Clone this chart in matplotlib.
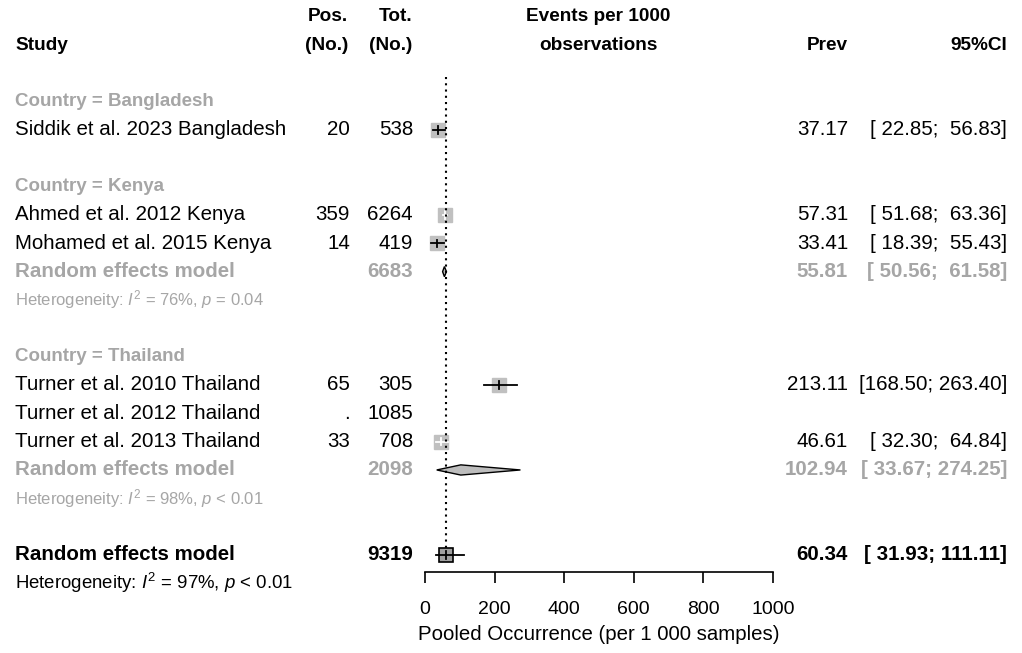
import numpy as np
import matplotlib.pyplot as plt

plt.rcParams['font.family'] = ['Liberation Sans', 'DejaVu Sans']
plt.rcParams['mathtext.fontset'] = 'custom'
plt.rcParams['mathtext.rm'] = 'Liberation Sans'
plt.rcParams['mathtext.it'] = 'Liberation Sans:italic'

# study level data
studies = ["Siddik et al. 2023 Bangladesh", "Ahmed et al. 2012 Kenya",
           "Mohamed et al. 2015 Kenya", "Turner et al. 2010 Thailand",
           "Turner et al. 2012 Thailand", "Turner et al. 2013 Thailand"]
country = ["Bangladesh", "Kenya", "Kenya", "Thailand", "Thailand", "Thailand"]
pos = [20, 359, 14, 65, None, 33]
tot = [538, 6264, 419, 305, 1085, 708]
prev = [37.17, 57.31, 33.41, 213.11, np.nan, 46.61]
lo = [22.85, 51.68, 18.39, 168.50, np.nan, 32.30]
hi = [56.83, 63.36, 55.43, 263.40, np.nan, 64.84]

# subgroup random effects
sub_names = ["Kenya", "Thailand"]
sub_tot = [6683, 2098]
sub_prev = [55.81, 102.94]
sub_lo = [50.56, 33.67]
sub_hi = [61.58, 274.25]
sub_i2 = [76, 98]
sub_p = ["= 0.04", "< 0.01"]

# overall random effects
all_tot = 9319
all_prev = 60.34
all_lo = 31.93
all_hi = 111.11
all_i2 = 97
all_p = "< 0.01"

grey = '#a6a6a6'
sq_grey = '#c0c0c0'
fs = 14.8
fs_group = 13.5
fs_het = 12
fs_het_all = 13.4

W, H = 1022, 653
fig = plt.figure(figsize=(W / 100, H / 100), dpi=100)

# row r sits at pixel 16.68 + 28.33 * r from the top
def row_of(px):
    return (px - 16.68) / 28.33

ax = fig.add_axes([0, 0, 1, 1])
ax.set_xlim(0, W)
ax.set_ylim(row_of(H), row_of(0))
ax.axis('off')

fx = fig.add_axes([425 / W, (H - 572) / H, 348 / W, 572 / H])
fx.set_xlim(0, 1000)
fx.set_ylim(row_of(572), row_of(0))
fx.patch.set_visible(False)
for s in ['top', 'left', 'right']:
    fx.spines[s].set_visible(False)
fx.spines['bottom'].set_linewidth(1.2)
fx.set_yticks([])
fx.set_xticks([0, 200, 400, 600, 800, 1000])
fx.tick_params(axis='x', length=8, width=1.2, pad=13, labelsize=14)
fx.set_xlabel("Pooled Occurrence (per 1 000 samples)", fontsize=14.7, labelpad=5)

# column positions
x_study, x_pos, x_tot, x_prev, x_ci = 15, 350, 413, 848, 1007

def ci_text(a, b):
    return f"[{a:6.2f}; {b:6.2f}]"

# header
hfs = 13.7
ax.text(x_study, 1, "Study", fontsize=hfs, fontweight='bold', va='center')
ax.text(x_pos - 2, 0, "Pos.", fontsize=hfs, fontweight='bold', va='center', ha='right')
ax.text(x_pos - 2, 1, "(No.)", fontsize=hfs, fontweight='bold', va='center', ha='right')
ax.text(x_tot - 1, 0, "Tot.", fontsize=hfs, fontweight='bold', va='center', ha='right')
ax.text(x_tot - 1, 1, "(No.)", fontsize=hfs, fontweight='bold', va='center', ha='right')
ax.text(598, 0, "Events per 1000", fontsize=hfs, fontweight='bold', va='center', ha='center')
ax.text(598, 1, "observations", fontsize=hfs, fontweight='bold', va='center', ha='center')
ax.text(x_prev, 1, "Prev", fontsize=hfs, fontweight='bold', va='center', ha='right')
ax.text(x_ci, 1, "95%CI", fontsize=hfs, fontweight='bold', va='center', ha='right')

ms = 9.8
# half width of a study square in data units
half_sq = ms * 100 / 72 / 2 * 1000 / 348

def study_row(i, r):
    ax.text(x_study, r, studies[i], fontsize=fs, va='center')
    ax.text(x_pos, r, "." if pos[i] is None else str(pos[i]), fontsize=fs, va='center', ha='right')
    ax.text(x_tot, r, str(tot[i]), fontsize=fs, va='center', ha='right')
    if np.isnan(prev[i]):
        return
    ax.text(x_prev, r, f"{prev[i]:.2f}", fontsize=fs, va='center', ha='right')
    ax.text(x_ci, r, ci_text(lo[i], hi[i]), fontsize=fs, va='center', ha='right')
    fx.plot(prev[i], r, marker='s', ms=ms, mfc=sq_grey, mec=sq_grey, ls='none', clip_on=False)
    inside = lo[i] >= prev[i] - half_sq and hi[i] <= prev[i] + half_sq
    c = 'white' if inside else 'black'
    fx.plot([lo[i], hi[i]], [r, r], color=c, lw=1.3, clip_on=False)
    fx.plot([prev[i], prev[i]], [r - 0.13, r + 0.13], color=c, lw=1.3, clip_on=False)

def diamond(p, a, b, r):
    fx.fill([a, p, b, p], [r, r - 0.18, r, r + 0.18], fc='#bdbdbd', ec='black', lw=1, clip_on=False)

r = 3
for c in ["Bangladesh", "Kenya", "Thailand"]:
    ax.text(x_study, r, f"Country = {c}", fontsize=fs_group, fontweight='bold', color=grey, va='center')
    r += 1
    for i in range(len(studies)):
        if country[i] == c:
            study_row(i, r)
            r += 1
    if c in sub_names:
        k = sub_names.index(c)
        ax.text(x_study, r, "Random effects model", fontsize=fs, fontweight='bold', color=grey, va='center')
        ax.text(x_tot, r, str(sub_tot[k]), fontsize=fs, fontweight='bold', color=grey, va='center', ha='right')
        ax.text(x_prev, r, f"{sub_prev[k]:.2f}", fontsize=fs, fontweight='bold', color=grey, va='center', ha='right')
        ax.text(x_ci, r, ci_text(sub_lo[k], sub_hi[k]), fontsize=fs, fontweight='bold', color=grey, va='center', ha='right')
        diamond(sub_prev[k], sub_lo[k], sub_hi[k], r)
        ax.text(x_study, r + 1, f"Heterogeneity: $I^2$ = {sub_i2[k]}%, $p$ {sub_p[k]}",
                fontsize=fs_het, color=grey, va='center')
        r += 2
    r += 1

# overall pooled estimate
ax.text(x_study, r, "Random effects model", fontsize=fs, fontweight='bold', va='center')
ax.text(x_tot, r, str(all_tot), fontsize=fs, fontweight='bold', va='center', ha='right')
ax.text(x_prev, r, f"{all_prev:.2f}", fontsize=fs, fontweight='bold', va='center', ha='right')
ax.text(x_ci, r, ci_text(all_lo, all_hi), fontsize=fs, fontweight='bold', va='center', ha='right')
ax.text(x_study, r + 1, f"Heterogeneity: $I^2$ = {all_i2}%, $p$ {all_p}", fontsize=fs_het_all, va='center')

fx.plot(all_prev, r, marker='s', ms=10.5, mfc='#a0a0a0', mec='black', mew=1.2, ls='none', clip_on=False)
fx.plot([all_lo, all_hi], [r, r], color='black', lw=1.3, clip_on=False)
fx.plot([all_prev, all_prev], [r - 0.15, r + 0.15], color='black', lw=1.3, clip_on=False)

# reference line at the pooled estimate
fx.plot([all_prev, all_prev], [row_of(77), r - 0.25], color='black', lw=1.5,
        ls=(0, (1, 2)), clip_on=False)

fig.savefig("out.png", dpi=100)
